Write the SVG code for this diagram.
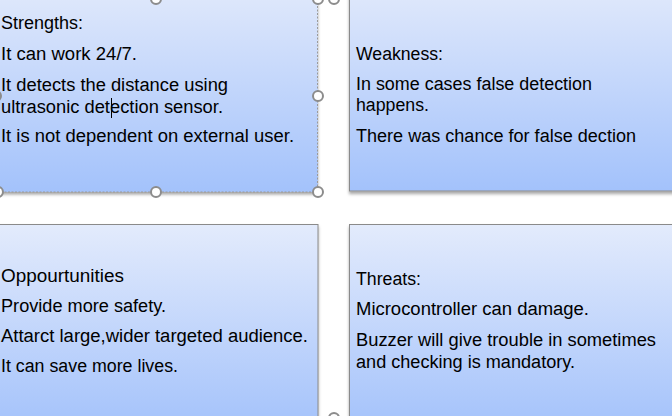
<svg xmlns="http://www.w3.org/2000/svg" width="672" height="416" viewBox="0 0 672 416">
<style>
.t{font-family:"Liberation Sans","Open Sans",Arial,sans-serif;font-size:18px;fill:#000}
.box{stroke:#8a8a8a;stroke-width:1}
.sel{fill:none;stroke:#9a9a9a;stroke-width:1;stroke-dasharray:2,1.5}
.h{fill:#fff;stroke:#8c8c8c;stroke-width:2}
</style>
<defs>
<linearGradient id="gTop" x1="0" y1="0" x2="0" y2="1">
<stop offset="0" stop-color="#dfe8fb"/>
<stop offset="1" stop-color="#a3c2fb"/>
</linearGradient>
<linearGradient id="gBot" x1="0" y1="0" x2="0" y2="1">
<stop offset="0" stop-color="#e3ebfc"/>
<stop offset="1" stop-color="#a5c3fb"/>
</linearGradient>
<filter id="sh" x="-5%" y="-5%" width="110%" height="115%">
<feDropShadow dx="0" dy="2.5" stdDeviation="1.5" flood-color="#000" flood-opacity="0.35"/>
</filter>
</defs>
<rect width="672" height="416" fill="#fff"/>

<g id="strengths">
<rect x="-10" y="-8" width="328" height="200" fill="url(#gTop)" filter="url(#sh)"/>
<rect class="sel" x="-1" y="-1" width="318.5" height="193"/>
<text class="t" x="1" y="29" textLength="82" lengthAdjust="spacingAndGlyphs">Strengths:</text>
<text class="t" x="1" y="60" textLength="136" lengthAdjust="spacingAndGlyphs">It can work 24/7.</text>
<text class="t" x="1" y="91" textLength="227" lengthAdjust="spacingAndGlyphs">It detects the distance using</text>
<text class="t" x="1" y="113" textLength="222" lengthAdjust="spacingAndGlyphs">ultrasonic detection sensor.</text>
<text class="t" x="1" y="142" textLength="293" lengthAdjust="spacingAndGlyphs">It is not dependent on external user.</text>
<line x1="111.5" y1="98" x2="111.5" y2="118" stroke="#000" stroke-width="1"/>
</g>

<g id="weakness">
<rect class="box" x="349.5" y="-8" width="340" height="199" fill="url(#gTop)" filter="url(#sh)"/>
<text class="t" x="356" y="60" textLength="87" lengthAdjust="spacingAndGlyphs">Weakness:</text>
<text class="t" x="356" y="90" textLength="236" lengthAdjust="spacingAndGlyphs">In some cases false detection</text>
<text class="t" x="356" y="111" textLength="73" lengthAdjust="spacingAndGlyphs">happens.</text>
<text class="t" x="356" y="142" textLength="280" lengthAdjust="spacingAndGlyphs">There was chance for false dection</text>
</g>

<g id="opportunities">
<rect class="box" x="-10" y="224.5" width="328" height="200" fill="url(#gBot)" filter="url(#sh)"/>
<text class="t" x="1" y="282" textLength="123" lengthAdjust="spacingAndGlyphs">Oppourtunities</text>
<text class="t" x="1" y="312" textLength="165" lengthAdjust="spacingAndGlyphs">Provide more safety.</text>
<text class="t" x="1" y="342" textLength="307" lengthAdjust="spacingAndGlyphs">Attarct large,wider targeted audience.</text>
<text class="t" x="1" y="372" textLength="177" lengthAdjust="spacingAndGlyphs">It can save more lives.</text>
</g>

<g id="threats">
<rect class="box" x="349.5" y="224.5" width="340" height="200" fill="url(#gBot)" filter="url(#sh)"/>
<text class="t" x="356" y="285" textLength="65" lengthAdjust="spacingAndGlyphs">Threats:</text>
<text class="t" x="356" y="315" textLength="233" lengthAdjust="spacingAndGlyphs">Microcontroller can damage.</text>
<text class="t" x="356" y="346" textLength="300" lengthAdjust="spacingAndGlyphs">Buzzer will give trouble in sometimes</text>
<text class="t" x="356" y="368" textLength="219" lengthAdjust="spacingAndGlyphs">and checking is mandatory.</text>
</g>

<g id="connectors"></g>

<g id="handles">
<circle class="h" cx="156" cy="-1" r="5"/>
<circle class="h" cx="318" cy="-1" r="5"/>
<circle class="h" cx="334" cy="-1" r="5"/>
<circle class="h" cx="318" cy="96" r="5"/>
<circle class="h" cx="318" cy="192" r="5"/>
<circle class="h" cx="156" cy="192" r="5"/>
<circle class="h" cx="-2" cy="192" r="5"/>
<circle class="h" cx="-4" cy="96" r="5"/>
<circle class="h" cx="334" cy="418" r="5"/>
</g>
</svg>
